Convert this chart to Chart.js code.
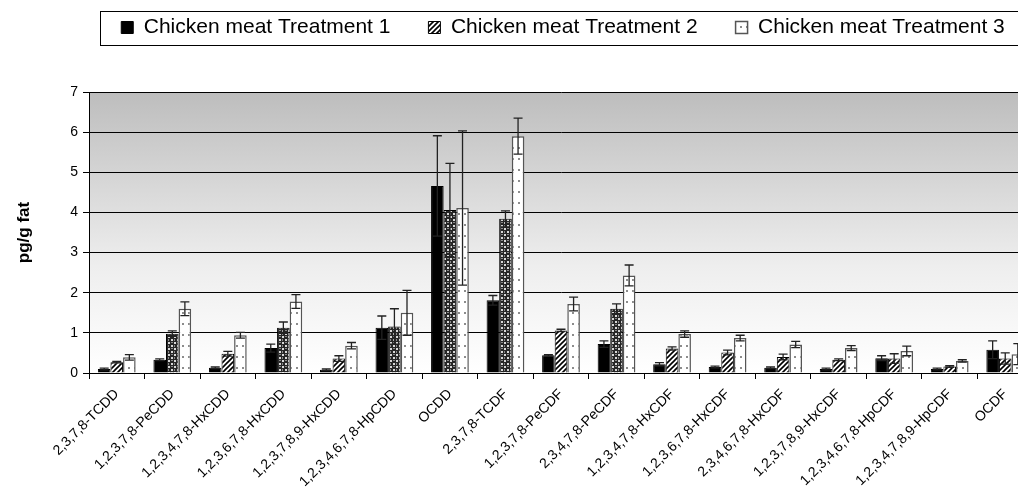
<!DOCTYPE html>
<html>
<head>
<meta charset="utf-8">
<script src="https://cdn.jsdelivr.net/npm/chart.js@4.4.1/dist/chart.umd.min.js"></script>
<style>
  html, body { margin: 0; padding: 0; background: #fff; overflow: hidden; }
  #wrap { width: 1126px; height: 492px; }
</style>
</head>
<body>
<div id="wrap"><canvas id="chart" width="1126" height="492"></canvas></div>
<script>
// data (pg/g fat)
const categories = ['2,3,7,8-TCDD', '1,2,3,7,8-PeCDD', '1,2,3,4,7,8-HxCDD', '1,2,3,6,7,8-HxCDD',
  '1,2,3,7,8,9-HxCDD', '1,2,3,4,6,7,8-HpCDD', 'OCDD', '2,3,7,8-TCDF', '1,2,3,7,8-PeCDF',
  '2,3,4,7,8-PeCDF', '1,2,3,4,7,8-HxCDF', '1,2,3,6,7,8-HxCDF', '2,3,4,6,7,8-HxCDF',
  '1,2,3,7,8,9-HxCDF', '1,2,3,4,6,7,8-HpCDF', '1,2,3,4,7,8,9-HpCDF', 'OCDF'];
const seriesNames = ['Chicken meat Treatment 1', 'Chicken meat Treatment 2', 'Chicken meat Treatment 3'];
const treatment1 = [0.10, 0.33, 0.13, 0.62, 0.08, 1.13, 4.66, 1.81, 0.44, 0.72, 0.22, 0.15, 0.13, 0.10, 0.37, 0.10, 0.58];
const error1     = [0.02, 0.02, 0.02, 0.10, 0.02, 0.29, 1.25, 0.12, 0.02, 0.08, 0.04, 0.02, 0.02, 0.02, 0.06, 0.02, 0.22];
const treatment2 = [0.27, 0.98, 0.48, 1.13, 0.36, 1.16, 4.06, 3.84, 1.06, 1.60, 0.61, 0.51, 0.40, 0.33, 0.36, 0.16, 0.36];
const error2     = [0.02, 0.07, 0.06, 0.14, 0.07, 0.44, 1.16, 0.20, 0.03, 0.12, 0.04, 0.06, 0.07, 0.02, 0.12, 0.02, 0.14];
const treatment3 = [0.39, 1.60, 0.94, 1.78, 0.68, 1.50, 4.11, 5.90, 1.72, 2.43, 0.97, 0.87, 0.71, 0.62, 0.55, 0.30, 0.47];
const error3     = [0.07, 0.17, 0.07, 0.17, 0.08, 0.56, 1.92, 0.45, 0.17, 0.26, 0.08, 0.07, 0.08, 0.06, 0.12, 0.03, 0.26];
const yMax = 7;

// the excel export drew some treatment 2 bars with a checker fill instead of hatching
const checkerBars = [1, 3, 5, 6, 7, 9];

function makePattern(w, h, draw) {
  const c = document.createElement('canvas');
  c.width = w; c.height = h;
  const g = c.getContext('2d');
  draw(g);
  return g.createPattern(c, 'repeat');
}
const hatch = makePattern(5, 5, g => {
  g.fillStyle = '#fff'; g.fillRect(0, 0, 5, 5);
  g.strokeStyle = '#000'; g.lineWidth = 1.6;
  g.beginPath();
  g.moveTo(-1, 6); g.lineTo(6, -1);
  g.moveTo(-1, 1); g.lineTo(1, -1);
  g.moveTo(4, 6); g.lineTo(6, 4);
  g.stroke();
});
const checker = makePattern(6, 6, g => {
  g.fillStyle = '#262626'; g.fillRect(0, 0, 6, 6);
  g.fillStyle = '#d8d8d8'; g.fillRect(0, 0, 2, 2); g.fillRect(3, 3, 2, 2);
  g.fillStyle = '#8a8a8a'; g.fillRect(3, 0, 2, 1); g.fillRect(0, 3, 1, 2);
});
const dots = makePattern(6, 11, g => {
  g.fillStyle = '#fff'; g.fillRect(0, 0, 6, 11);
  g.fillStyle = '#8c8c8c'; g.fillRect(2, 4, 2, 2);
});

const plotBackground = {
  id: 'plotBackground',
  beforeDraw(chart) {
    const { ctx, chartArea: a } = chart;
    const grad = ctx.createLinearGradient(0, a.top, 0, a.bottom);
    grad.addColorStop(0, '#bdbdbd');
    grad.addColorStop(0.35, '#d9d9d9');
    grad.addColorStop(0.62, '#eeeeee');
    grad.addColorStop(1, '#ffffff');
    ctx.save();
    ctx.fillStyle = grad;
    ctx.fillRect(a.left, a.top, a.right - a.left, a.bottom - a.top);
    ctx.restore();
  }
};

const errorBars = {
  id: 'errorBars',
  afterDatasetsDraw(chart) {
    const { ctx } = chart;
    const y = chart.scales.y;
    ctx.save();
    ctx.strokeStyle = '#222';
    ctx.lineWidth = 1.3;
    chart.data.datasets.forEach((ds, i) => {
      const meta = chart.getDatasetMeta(i);
      meta.data.forEach((bar, j) => {
        const v = ds.data[j], e = ds.errors[j];
        const hi = y.getPixelForValue(v + e), lo = y.getPixelForValue(Math.max(v - e, 0));
        ctx.beginPath();
        ctx.moveTo(bar.x, hi); ctx.lineTo(bar.x, lo);
        ctx.moveTo(bar.x - 4.5, hi); ctx.lineTo(bar.x + 4.5, hi);
        ctx.moveTo(bar.x - 4.5, lo); ctx.lineTo(bar.x + 4.5, lo);
        ctx.stroke();
      });
    });
    ctx.restore();
  }
};

const legendFrame = {
  id: 'legendFrame',
  afterDraw(chart) {
    const boxes = chart.legend.legendHitBoxes;
    if (!boxes || !boxes.length) return;
    const first = boxes[0], last = boxes[boxes.length - 1];
    const mid = first.top + first.height / 2;
    const { ctx } = chart;
    ctx.save();
    ctx.strokeStyle = '#000';
    ctx.lineWidth = 1;
    ctx.strokeRect(Math.round(first.left - 21) + 0.5, Math.round(mid - 17) + 0.5,
      Math.round(last.left + last.width + 42 - first.left), 34);
    ctx.restore();
  }
};

Chart.defaults.font.family = 'Liberation Sans, Arial, sans-serif';
Chart.defaults.color = '#000';

new Chart(document.getElementById('chart'), {
  type: 'bar',
  data: {
    labels: categories,
    datasets: [
      { label: seriesNames[0], data: treatment1, errors: error1, yAxisID: 'y',
        backgroundColor: '#000', borderColor: '#000', borderWidth: 1 },
      { label: seriesNames[1], data: treatment2, errors: error2, yAxisID: 'y',
        backgroundColor: ctx => (ctx.type === 'data' && checkerBars.includes(ctx.dataIndex)) ? checker : hatch,
        borderColor: '#000', borderWidth: 1 },
      { label: seriesNames[2], data: treatment3, errors: error3, yAxisID: 'y',
        backgroundColor: dots, borderColor: '#555', borderWidth: 1.5 }
    ]
  },
  options: {
    responsive: false,
    animation: false,
    categoryPercentage: 0.68,
    barPercentage: 1.0,
    layout: { padding: { top: -21, left: 0, right: 0, bottom: 0 } },
    plugins: {
      legend: {
        position: 'top',
        labels: { boxWidth: 12, boxHeight: 12, padding: 38, font: { size: 21 }, color: '#000' }
      },
      title: { display: true, text: '', weight: 500, font: { size: 10, lineHeight: 1 }, padding: { top: 17, bottom: 17 } },
      tooltip: { enabled: false }
    },
    scales: {
      x: {
        grid: { display: true, drawOnChartArea: false, color: '#000', tickLength: 6 },
        border: { color: '#000' },
        ticks: { autoSkip: false, minRotation: 45, maxRotation: 45, padding: 7, font: { size: 14 }, color: '#000' },
        afterFit(s) { s.height = 119; }
      },
      y: {
        min: 0, max: yMax,
        ticks: { stepSize: 1, font: { size: 14 }, color: '#000', padding: 5 },
        grid: { color: '#000', tickLength: 6 },
        border: { color: '#000' },
        title: { display: true, text: 'pg/g fat', font: { size: 17, weight: 'bold' }, padding: { top: 14, bottom: 0 } },
        afterFit(s) { s.width = 89; }
      },
      yR: {
        type: 'linear', position: 'right', display: true,
        grid: { display: false }, border: { display: false }, ticks: { display: false },
        afterFit(s) { s.width = 93; }
      }
    }
  },
  plugins: [plotBackground, errorBars, legendFrame]
});
</script>
</body>
</html>
